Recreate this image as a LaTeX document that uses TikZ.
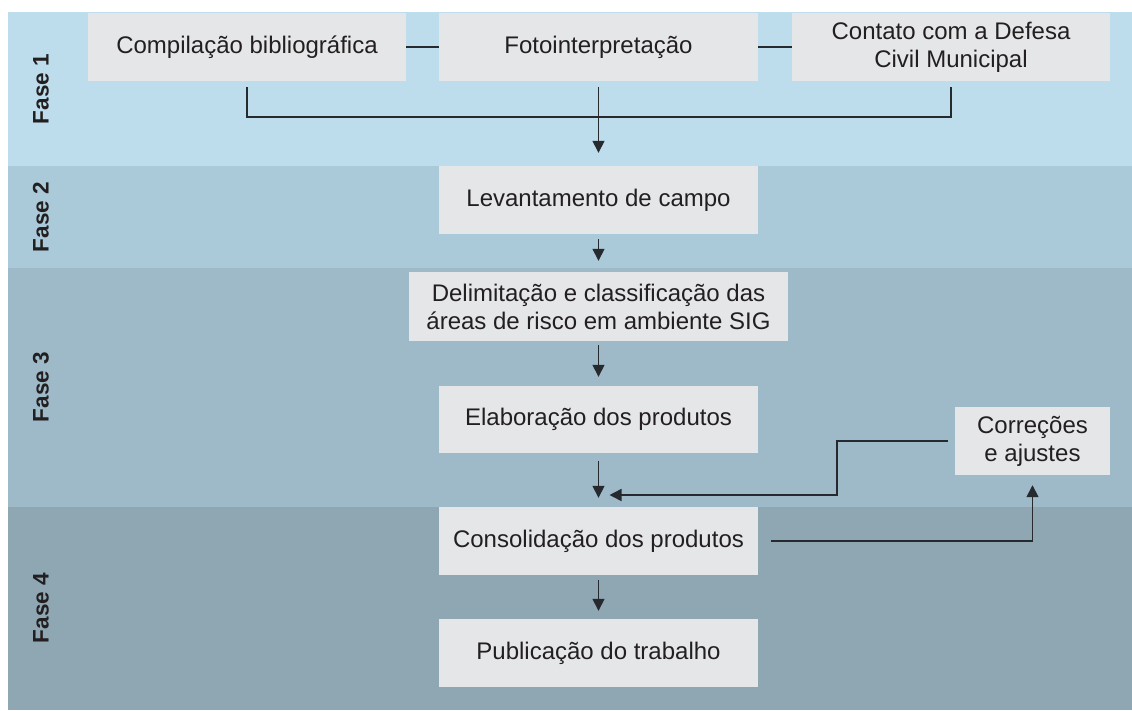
\documentclass[tikz,border=0pt]{standalone}
\usepackage{fontspec}
\setmainfont{Liberation Sans}
\usetikzlibrary{arrows.meta}
\definecolor{bandA}{HTML}{BDDDEC}
\definecolor{bandB}{HTML}{AACAD9}
\definecolor{bandC}{HTML}{9EBAC9}
\definecolor{bandD}{HTML}{8FA6B3}
\definecolor{boxfill}{HTML}{E5E6E8}
\definecolor{ink}{HTML}{231F20}
\definecolor{linecol}{HTML}{262A2E}
\tikzset{
  stepbox/.style={fill=boxfill, draw=none, inner sep=0pt, align=center, text=ink,
    font=\fontsize{24}{28}\selectfont},
  faselabel/.style={rotate=90, text=ink, font=\fontsize{22.5}{26}\selectfont\bfseries},
  conn/.style={draw=linecol, line width=1.5pt},
  arr/.style={conn, -{Triangle[length=12pt,width=12pt]}},
}
\begin{document}
\begin{tikzpicture}[x=1pt,y=-1pt]
\useasboundingbox (0,0) rectangle (1132,710);
% bands
\fill[bandA] (8,12) rectangle (1132,166);
\fill[bandB] (8,166) rectangle (1132,268);
\fill[bandC] (8,268) rectangle (1132,507);
\fill[bandD] (8,507) rectangle (1132,710);
% phase labels
\node[faselabel] (f1) at (41,89) {Fase 1};
\node[faselabel] (f2) at (41,217) {Fase 2};
\node[faselabel] (f3) at (41,387) {Fase 3};
\node[faselabel] (f4) at (41,608) {Fase 4};
% boxes
\node[stepbox, minimum width=318pt, minimum height=68pt] (comp) at (247,47) {Compilação bibliográfica};
\node[stepbox, minimum width=319pt, minimum height=68pt] (foto) at (598.5,47) {Fotointerpretação};
\node[stepbox, minimum width=318pt, minimum height=68pt] (cont) at (951,47) {Contato com a Defesa\\Civil Municipal};
\node[stepbox, minimum width=319pt, minimum height=68pt] (lev) at (598.5,200) {Levantamento de campo};
\node[stepbox, minimum width=379pt, minimum height=69pt] (delim) at (598.5,306.5) {Delimitação e classificação das\\áreas de risco em ambiente SIG};
\node[stepbox, minimum width=319pt, minimum height=67pt] (elab) at (598.5,419.5) {Elaboração dos produtos};
\node[stepbox, minimum width=319pt, minimum height=68pt] (cons) at (598.5,541) {Consolidação dos produtos};
\node[stepbox, minimum width=319pt, minimum height=68pt] (pub) at (598.5,653) {Publicação do trabalho};
\node[stepbox, minimum width=155pt, minimum height=68pt] (corr) at (1032.5,441) {Correções\\e ajustes};
% helper coordinates
\coordinate (barY) at (0,117);
\coordinate (fbX) at (837,0);
\coordinate (fbY) at (0,495);
% phase 1 connectors
\draw[conn] (comp.east) -- (foto.west);
\draw[conn] (foto.east) -- (cont.west);
\draw[conn] ([yshift=-6pt]comp.south) -- (comp.south |- barY) -- (cont.south |- barY) -- ([yshift=-6pt]cont.south);
\draw[arr] ([yshift=-6pt]foto.south) -- ([yshift=13pt]lev.north);
% main flow
\draw[arr] ([yshift=-5pt]lev.south) -- ([yshift=11pt]delim.north);
\draw[arr] ([yshift=-4pt]delim.south) -- ([yshift=9pt]elab.north);
\draw[arr] ([yshift=-8pt]elab.south) -- ([yshift=9pt]cons.north);
\draw[arr] ([yshift=-5pt]cons.south) -- ([yshift=8pt]pub.north);
% feedback loop
\draw[arr] ([xshift=13pt]cons.east) -- (corr.south |- cons.east) -- ([yshift=-10pt]corr.south);
\draw[arr] ([xshift=-7pt]corr.west) -- (fbX |- corr.west) -- (fbX |- fbY) -- ([xshift=11pt]elab.south |- fbY);
\end{tikzpicture}
\end{document}
